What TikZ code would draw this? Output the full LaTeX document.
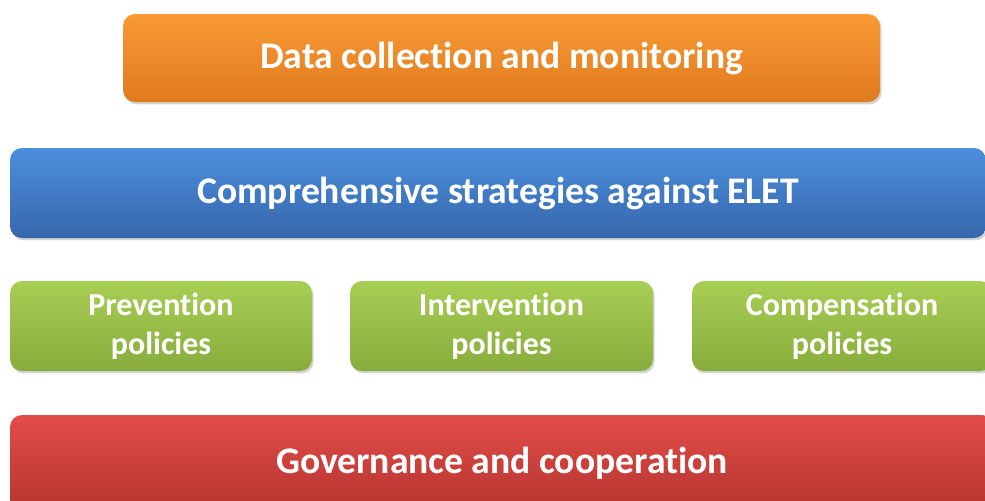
\documentclass[tikz,border=0pt]{standalone}
\usepackage{fontspec}
\setmainfont{Carlito}[RawFeature={-liga;-clig;-calt;-dlig}]
\usetikzlibrary{shadows}
\definecolor{orangetop}{HTML}{F99A35}
\definecolor{orangebot}{HTML}{E07A1E}
\definecolor{bluetop}{HTML}{4D8EDB}
\definecolor{bluebot}{HTML}{3567AD}
\definecolor{greentop}{HTML}{A8CE55}
\definecolor{greenbot}{HTML}{87AC3C}
\definecolor{redtop}{HTML}{E24D49}
\definecolor{redbot}{HTML}{B5342F}
\tikzset{
  bar/.style={rounded corners=6pt, text=white, font=\bfseries, align=center,
    inner sep=0pt, drop shadow={shadow xshift=0.8pt, shadow yshift=-1.2pt, opacity=0.35}},
  orangebar/.style={bar, top color=orangetop, bottom color=orangebot},
  bluebar/.style={bar, top color=bluetop, bottom color=bluebot},
  greenbar/.style={bar, top color=greentop, bottom color=greenbot},
  redbar/.style={bar, top color=redtop, bottom color=redbot},
}
\begin{document}
\begin{tikzpicture}[x=0.5pt,y=-0.5pt]
\useasboundingbox (0,0) rectangle (985,500);
\node[orangebar, minimum width=378.5pt, minimum height=44pt, font=\bfseries\fontsize{18.8}{22}\selectfont] (data) at (501.5,58) {Data collection and monitoring};
\node[bluebar, minimum width=488pt, minimum height=45pt, font=\bfseries\fontsize{18.8}{22}\selectfont] (strat) at (498,193) {Comprehensive strategies against ELET};
\node[greenbar, minimum width=151pt, minimum height=45pt, font=\bfseries\fontsize{16}{19.5}\selectfont] (prev) at (161,326) {Prevention\\policies};
\node[greenbar, minimum width=151.5pt, minimum height=45pt, font=\bfseries\fontsize{16}{19.5}\selectfont] (interv) at (501.5,326) {Intervention\\policies};
\node[greenbar, minimum width=150pt, minimum height=45pt, font=\bfseries\fontsize{16}{19.5}\selectfont] (comp) at (842,326) {Compensation\\policies};
\node[redbar, minimum width=492pt, minimum height=48pt, font=\bfseries\fontsize{18.8}{22}\selectfont] (gov) at (502,463) {Governance and cooperation};
\end{tikzpicture}
\end{document}
